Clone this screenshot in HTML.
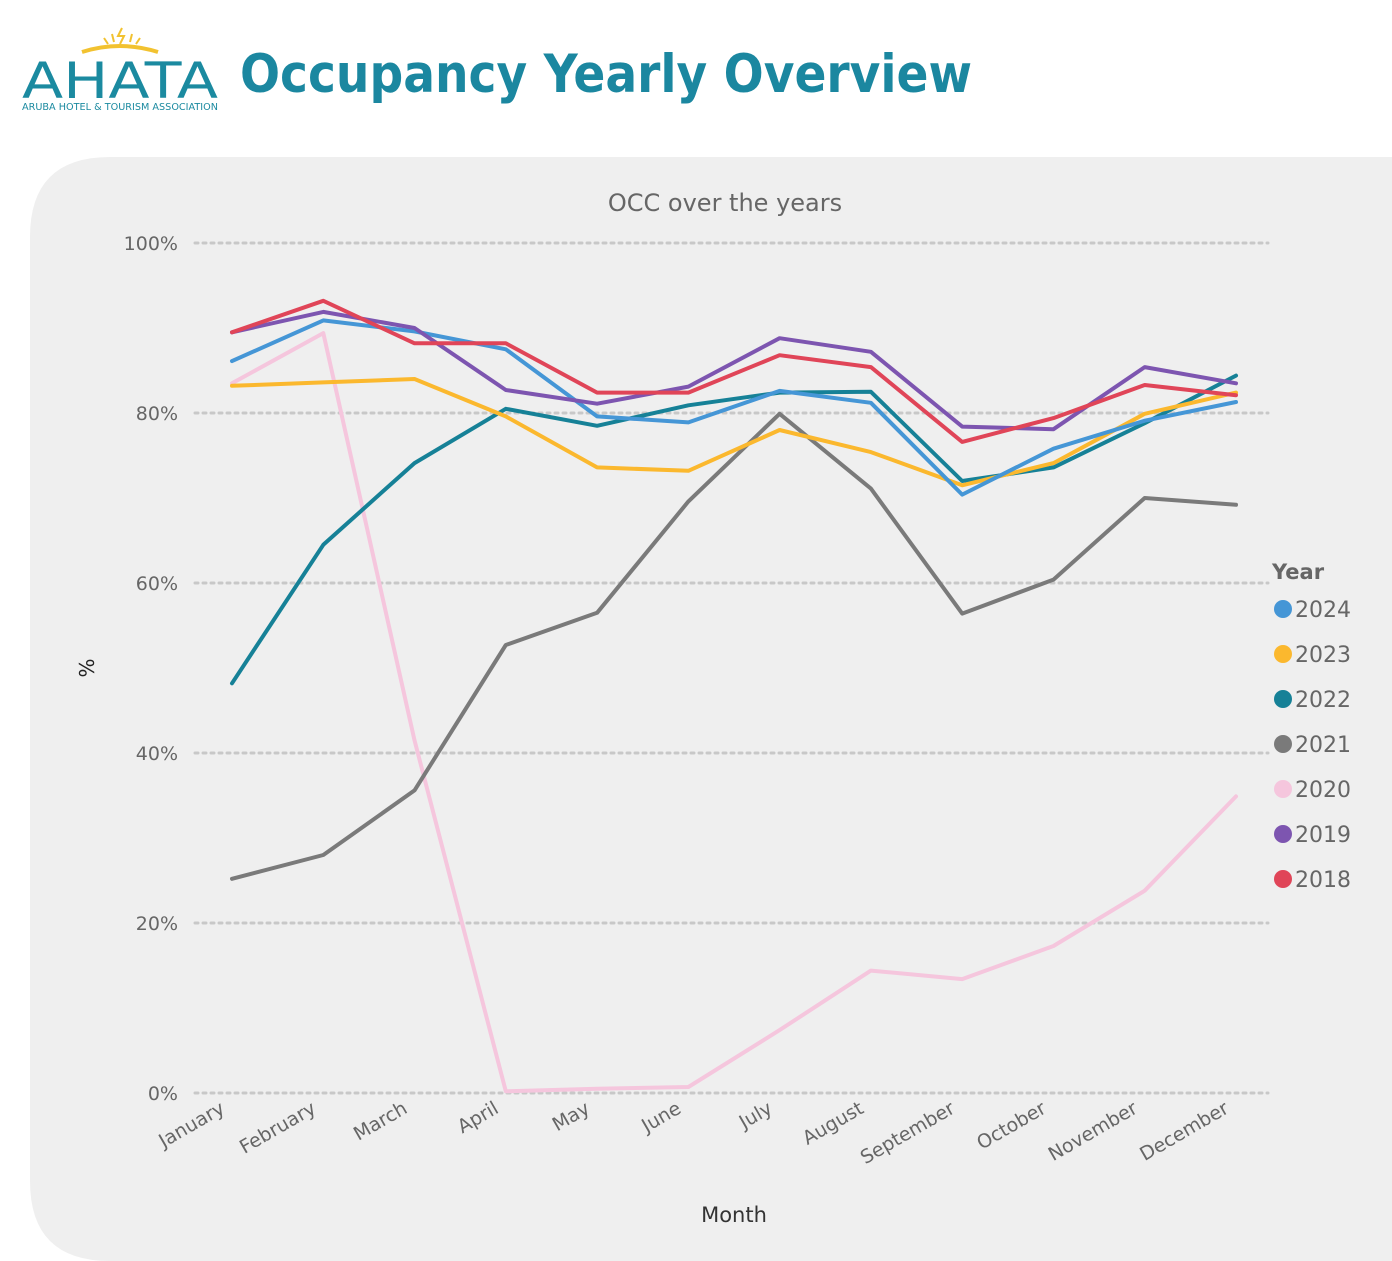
<!DOCTYPE html>
<html><head><meta charset="utf-8">
<style>
html,body{margin:0;padding:0;background:#fff;width:1392px;height:1261px;overflow:hidden;font-family:"Liberation Sans","DejaVu Sans",sans-serif;}
svg text{font-family:"DejaVu Sans","Liberation Sans",sans-serif;}
</style></head>
<body>
<svg id="chart" width="1392" height="1261" viewBox="0 0 1392 1261" xmlns="http://www.w3.org/2000/svg">
  <g>
    <path d="M82 52 Q120 40 158 52" stroke="#f2c230" stroke-width="4" fill="none"/>
    <path d="M122 28 L118 36 L124 36 L120 44" stroke="#f2c230" stroke-width="2" fill="none"/>
    <line x1="104" y1="38" x2="108" y2="44" stroke="#f2c230" stroke-width="2"/>
    <line x1="112" y1="34" x2="114" y2="42" stroke="#f2c230" stroke-width="2"/>
    <line x1="132" y1="34" x2="130" y2="42" stroke="#f2c230" stroke-width="2"/>
    <line x1="140" y1="38" x2="136" y2="44" stroke="#f2c230" stroke-width="2"/>
    <text x="22" y="98" font-size="50" fill="#1b8aa0" font-family="Liberation Sans" textLength="196" lengthAdjust="spacingAndGlyphs">AHATA</text>
    <text x="22" y="110" font-size="9.5" fill="#1b8aa0" font-family="Liberation Sans" textLength="196" lengthAdjust="spacingAndGlyphs">ARUBA HOTEL &amp; TOURISM ASSOCIATION</text>
  </g>
  <text x="240" y="92" font-size="53" font-weight="bold" fill="#1b87a0" font-family="DejaVu Sans" textLength="732" lengthAdjust="spacingAndGlyphs">Occupancy Yearly Overview</text>
  <path d="M110 157 L1392 157 L1392 1261 L110 1261 Q30 1261 30 1181 L30 237 Q30 157 110 157 Z" fill="#efefef"/>
  <text x="725" y="211" text-anchor="middle" font-size="24" fill="#666">OCC over the years</text>
  <g id="grid"></g>
  <g id="series"></g>
  <text x="734" y="1222" text-anchor="middle" font-size="21" fill="#333">Month</text>
  <text transform="translate(94,668) rotate(-90)" text-anchor="middle" font-size="20" fill="#222">%</text>
  <g id="legend">
    <text x="1272" y="579" font-size="21" font-weight="bold" fill="#666">Year</text>
  </g>
</svg>
<script>
const months = ["January","February","March","April","May","June","July","August","September","October","November","December"];
const years = ["2024","2023","2022","2021","2020","2019","2018"];
const colors = ["#4596d6","#fbb82e","#168197","#7a7a7a","#f5c6dd","#7d55b0","#e04558"];
const v2024 = [86.1,90.9,89.6,87.5,79.6,78.9,82.6,81.2,70.4,75.8,79.1,81.3];
const v2023 = [83.2,83.6,84.0,79.6,73.6,73.2,78.0,75.4,71.5,74.1,79.9,82.4];
const v2022 = [48.2,64.5,74.1,80.5,78.5,80.9,82.4,82.5,72.0,73.6,78.8,84.4];
const v2021 = [25.2,28.0,35.6,52.7,56.5,69.6,79.9,71.1,56.4,60.4,70.0,69.2];
const v2020 = [83.5,89.4,41.5,0.2,0.5,0.7,7.4,14.4,13.4,17.3,23.8,34.9];
const v2019 = [89.5,91.9,90.0,82.7,81.1,83.1,88.8,87.2,78.4,78.1,85.4,83.5];
const v2018 = [89.5,93.2,88.2,88.2,82.4,82.4,86.8,85.4,76.6,79.4,83.3,82.1];
const yTicks = [0,20,40,60,80,100];
const seriesValues = [v2024,v2023,v2022,v2021,v2020,v2019,v2018];

const NS = "http://www.w3.org/2000/svg";
const x0 = 232, x1 = 1236, y0 = 1093, y100 = 243;
const xScale = i => x0 + i * (x1 - x0) / (months.length - 1);
const yScale = v => y0 - (v / 100) * (y0 - y100);
function mk(tag, attrs, parent){ const e=document.createElementNS(NS,tag); for(const k in attrs) e.setAttribute(k,attrs[k]); parent.appendChild(e); return e; }

const grid = document.getElementById('grid');
yTicks.forEach(t => {
  const y = yScale(t);
  const l = mk('line',{x1:195,x2:1268,y1:y,y2:y,stroke:'#c8c8c8','stroke-width':3,'stroke-dasharray':'3 5','stroke-linecap':'round'},grid);
  
  
  const tx = mk('text',{x:178,y:y+7,'text-anchor':'end','font-size':19,fill:'#666'},grid);
  tx.textContent = t + '%';
  
  
});
months.forEach((m,i) => {
  const x = xScale(i);
  const tx = mk('text',{'text-anchor':'end','font-size':19,fill:'#666',transform:`translate(${x-6},${1112}) rotate(-30)`},grid);
  tx.textContent = m;
  
  
});

const sg = document.getElementById('series');
const drawOrder = [4,3,2,1,0,5,6];
drawOrder.forEach(s => {
  const pts = seriesValues[s].map((v,i) => xScale(i).toFixed(1)+','+yScale(v).toFixed(1)).join(' ');
  const pl = mk('polyline',{points:pts,fill:'none',stroke:colors[s],'stroke-width':4,'stroke-linejoin':'round','stroke-linecap':'round'},sg);
  
  
});

const lg = document.getElementById('legend');
years.forEach((yr,i) => {
  const y = 609 + i * 45;
  const g = mk('g',{},lg);
  
  
  mk('circle',{cx:1283,cy:y,r:9,fill:colors[i]},g);
  const t = mk('text',{x:1295,y:y+8,'font-size':22,fill:'#666'},g);
  t.textContent = yr;
});
</script>
</body></html>
